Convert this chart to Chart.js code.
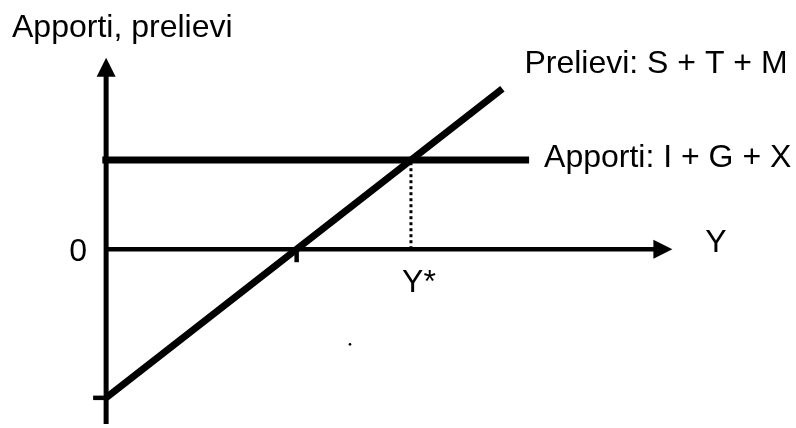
<!DOCTYPE html>
<html>
<head>
<meta charset="utf-8">
<script src="https://cdn.jsdelivr.net/npm/chart.js@4.4.1/dist/chart.umd.min.js"></script>
<style>
  html, body { margin: 0; padding: 0; background: #fff; }
  #wrap { width: 796px; height: 428px; }
</style>
</head>
<body>
<div id="wrap"><canvas id="leakageChart" width="796" height="428"></canvas></div>
<script>
// income (x) against injections / withdrawals (y)
const apportiIncome = [-0.1, 11.1];
const apportiValues = [3, 3];
const prelieviIncome = [0, 10.4];
const prelieviValues = [-5, 5.4];
const equilibriumIncome = 8;      // Y*
const zeroWithdrawalIncome = 5;   // S + T + M = 0
const strayDot = [{ x: 6.4, y: -3.2 }];

// visible window and axis lengths, same units as the data
const xRange = [-2.68, 18];
const yRange = [-5.88, 8.25];
const xAxisEnd = 14.86;
const yAxisEnd = 6.44;

const FONT = "32px 'Liberation Sans', Arial, sans-serif";

const toPoints = (xs, ys) => xs.map((x, i) => ({ x, y: ys[i] }));

const axesPlugin = {
  id: "axes",
  beforeDatasetsDraw(chart) {
    const { ctx, scales: { x, y } } = chart;
    const x0 = x.getPixelForValue(0);
    const y0 = y.getPixelForValue(0);
    const yBottom = y.getPixelForValue(yRange[0]);
    const yTop = y.getPixelForValue(yAxisEnd);
    const xRight = x.getPixelForValue(xAxisEnd);
    ctx.save();
    ctx.strokeStyle = "#000";
    ctx.fillStyle = "#000";

    // vertical axis
    ctx.lineWidth = 5;
    ctx.beginPath();
    ctx.moveTo(x0, yBottom);
    ctx.lineTo(x0, yTop + 17);
    ctx.stroke();
    ctx.beginPath();
    ctx.moveTo(x0, yTop);
    ctx.lineTo(x0 - 9.5, yTop + 19);
    ctx.lineTo(x0 + 9.5, yTop + 19);
    ctx.closePath();
    ctx.fill();

    // horizontal axis
    ctx.lineWidth = 4.5;
    ctx.beginPath();
    ctx.moveTo(x0, y0);
    ctx.lineTo(xRight - 17, y0);
    ctx.stroke();
    ctx.beginPath();
    ctx.moveTo(xRight, y0);
    ctx.lineTo(xRight - 19, y0 - 9.5);
    ctx.lineTo(xRight - 19, y0 + 9.5);
    ctx.closePath();
    ctx.fill();

    // tick marks at the intercepts
    ctx.lineWidth = 4.5;
    const tx = x.getPixelForValue(zeroWithdrawalIncome);
    ctx.beginPath();
    ctx.moveTo(tx, y0);
    ctx.lineTo(tx, y0 + 13);
    ctx.stroke();
    const ty = y.getPixelForValue(prelieviValues[0]);
    ctx.beginPath();
    ctx.moveTo(x0, ty);
    ctx.lineTo(x0 - 13, ty);
    ctx.stroke();
    ctx.restore();
  },
  afterDraw(chart) {
    const { ctx, scales: { x, y } } = chart;
    const x0 = x.getPixelForValue(0);
    const y0 = y.getPixelForValue(0);
    ctx.save();
    ctx.fillStyle = "#000";
    ctx.font = FONT;
    ctx.textBaseline = "alphabetic";
    ctx.textAlign = "left";
    ctx.fillText("Apporti, prelievi", 12, 37);
    ctx.fillText("Prelievi: S + T + M",
      x.getPixelForValue(prelieviIncome[1]) + 22, 73);
    ctx.fillText("Apporti: I + G + X",
      x.getPixelForValue(apportiIncome[1]) + 15, y.getPixelForValue(apportiValues[1]) + 7);
    ctx.fillText("Y", x.getPixelForValue(xAxisEnd) + 33, y0 + 3);
    ctx.textAlign = "center";
    ctx.fillText("0", x0 - 28, y0 + 12);
    ctx.fillText("Y*", x.getPixelForValue(equilibriumIncome) + 8, y0 + 43);
    ctx.restore();
  }
};

new Chart(document.getElementById("leakageChart"), {
  type: "scatter",
  data: {
    datasets: [
      {
        label: "Y*",
        data: [{ x: equilibriumIncome, y: 0 }, { x: equilibriumIncome, y: apportiValues[0] }],
        showLine: true,
        borderColor: "#000",
        borderWidth: 3,
        borderDash: [3, 3],
        pointRadius: 0
      },
      {
        label: "Apporti: I + G + X",
        data: toPoints(apportiIncome, apportiValues),
        showLine: true,
        borderColor: "#000",
        borderWidth: 7,
        pointRadius: 0
      },
      {
        label: "Prelievi: S + T + M",
        data: toPoints(prelieviIncome, prelieviValues),
        showLine: true,
        borderColor: "#000",
        borderWidth: 7,
        pointRadius: 0
      },
      {
        label: "dot",
        data: strayDot,
        pointRadius: 1.3,
        pointBorderWidth: 0,
        pointBackgroundColor: "#000"
      }
    ]
  },
  options: {
    responsive: false,
    animation: false,
    layout: { padding: 0 },
    plugins: {
      legend: { display: false },
      title: { display: false },
      tooltip: { enabled: false }
    },
    scales: {
      x: { type: "linear", min: xRange[0], max: xRange[1], display: false },
      y: { type: "linear", min: yRange[0], max: yRange[1], display: false }
    }
  },
  plugins: [axesPlugin]
});
</script>
</body>
</html>
